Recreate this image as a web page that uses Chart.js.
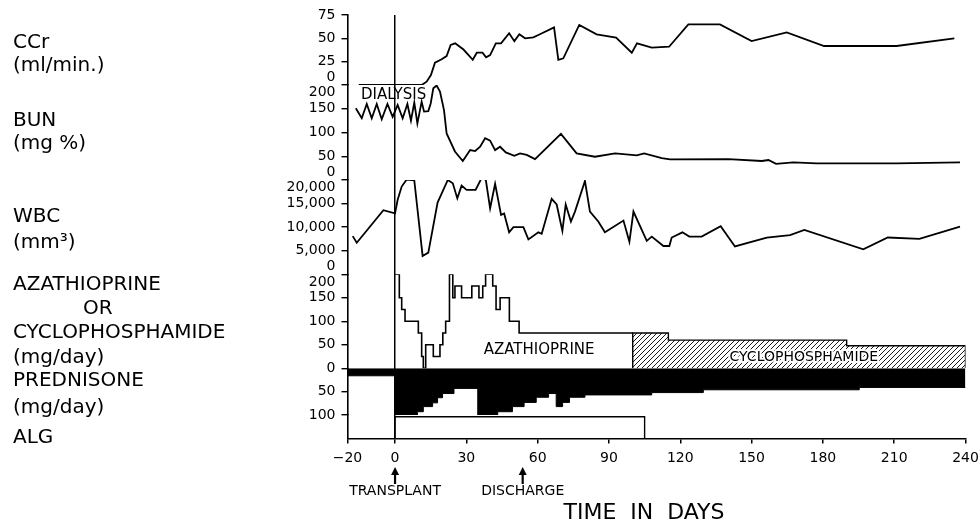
<!DOCTYPE html>
<html>
<head>
<meta charset="utf-8">
<script src="https://cdn.jsdelivr.net/npm/chart.js@4.4.1/dist/chart.umd.min.js"></script>
<style>
  html, body { margin: 0; padding: 0; background: #fff; }
  #wrap { width: 979px; height: 523px; position: relative; }
</style>
</head>
<body>
<div id="wrap"><canvas id="chart"></canvas></div>
<script>
// values, x = days after transplant
const xTicks = [-20, 0, 30, 60, 90, 120, 150, 180, 210, 240];
const ccrTicks = [25, 50, 75];
const bunTicks = [50, 100, 150, 200];
const wbcTicks = [5000, 10000, 15000, 20000];
const drugTicks = [50, 100, 150, 200];
const predTicks = [0, 50, 100];

const ccrDays = [-15.3, 11.2, 13.3, 15.1, 16.8, 19.6, 21.7, 23.4, 25.3, 28.8, 32.7, 34.4, 36.8, 38.3, 40,
  42.4, 44.6, 48, 50.2, 52.3, 54.7, 58.2, 60.3, 66.9, 68.7, 70.8, 77.5, 84.8, 93, 99.6, 101.8,
  108, 115.3, 123.4, 136.7, 150, 164.8, 180.5, 211, 235.3];
const ccrValues = [0, 0, 3.6, 10.7, 24, 27.5, 31, 43, 44.6, 38, 27, 34.6, 34.6, 29.6, 32,
  44.6, 44.6, 55.4, 47, 54.3, 50, 51, 53.6, 61.8, 27, 28.6, 64.3, 54.3, 50.7, 34.6, 44.6,
  40, 41, 65, 65, 47, 56.4, 41.8, 41.8, 50];

const bunDays = [-16.5, -14, -11.9, -9.8, -7.7, -5.6, -3.2, -1, 1.1, 3.2, 5.2, 6.7, 8.1, 9.4, 11.2,
  12.2, 14, 15, 16.1, 17.5, 18.9, 20.6, 21.7, 25.2, 28.5, 31.6, 33.7, 35.8, 37.9, 40, 42.1, 44.2,
  46.6, 50.2, 52.6, 55.4, 58.9, 69.8, 76.4, 84.1, 92.6, 101.7, 104.8, 112.2, 115.7, 140.2, 154.3,
  157.1, 160.3, 167.6, 177.4, 211, 237.7];
const bunValues = [151, 130, 160, 130, 160, 128, 160, 133, 158, 130, 160, 125, 163, 119, 165,
  144, 145, 161, 193, 199, 186, 147, 98, 60, 40, 63, 61, 70, 88, 83, 63, 70,
  58, 51, 56, 53, 44, 97, 56, 49, 56, 52, 56, 46, 43.5, 44, 40,
  42, 34, 37, 35, 35, 37];

const wbcDays = [-17.8, -16.1, -4.9, 0, 1.1, 2.8, 4.9, 8.1, 11.6, 14, 17.9, 22.2, 24.3, 26.2, 28,
  30.1, 33.9, 36.5, 38.2, 40, 42.1, 44.6, 45.9, 48, 49.8, 54, 56.1, 60.3, 61.7, 65.9, 68, 70.4,
  71.8, 74, 75.7, 79.9, 82, 85.5, 88.3, 96.1, 98.6, 100.3, 105.9, 108, 112.9, 115.4, 116.4, 120.9,
  123.8, 129, 137, 143, 156.4, 166.2, 172.2, 197, 207.3, 220.6, 237.7];
const wbcValues = [8100, 6700, 13600, 12900, 15800, 18600, 20100, 19900, 3900, 4600, 15200, 20000, 19300, 16100, 18800,
  17900, 17900, 20500, 20000, 14000, 19200, 12600, 12900, 8900, 10000, 10000, 7400, 8900, 8600, 16000, 14800, 9200,
  14800, 11200, 13300, 19800, 13300, 11200, 8900, 11400, 6900, 13300, 7100, 8000, 6000, 6000, 7800, 8900,
  8000, 8000, 10200, 5900, 7800, 8300, 9400, 5300, 7800, 7500, 10100];

// daily doses, each value holds until the next day listed
const azaDays = [0, 1.8, 2.8, 4.2, 9.8, 11.2, 11.9, 12.9, 16.1, 18.9, 20.1, 21.3, 22.9, 24.3, 25.2,
  28, 32.3, 35.3, 36.9, 38.1, 41.1, 42.5, 44.2, 48.1, 52.2, 100];
const azaDoses = [200, 150, 125, 100, 75, 25, 0, 50, 25, 50, 75, 100, 200, 150, 175,
  150, 175, 150, 175, 200, 175, 125, 150, 100, 75, 75];

const cycloDays = [100, 115, 190, 240];
const cycloDoses = [75, 60, 48, 48];

const predDays = [-20, 0, 9.4, 11.9, 15.8, 17.9, 20, 24.8, 34.8, 43.2, 49.4, 54.3, 59.4, 64.6,
  67.8, 70.5, 73.4, 79.9, 108, 129.7, 195.3, 240];
const predDoses = [16, 100, 93, 82, 74, 63, 54, 43, 100, 93, 82, 73, 62, 54,
  82, 73, 62, 57, 52, 46, 41, 41];

const algStart = 0;
const algEnd = 105;

const events = [
  { label: 'TRANSPLANT', day: 0 },
  { label: 'DISCHARGE', day: 53.7 }
];

const sideLabels = [
  ['CCr', 13, 43], ['(ml/min.)', 13, 66],
  ['BUN', 13, 121], ['(mg %)', 13, 144],
  ['WBC', 13, 217], ['(mm³)', 13, 243],
  ['AZATHIOPRINE', 13, 285], ['OR', 83, 309], ['CYCLOPHOSPHAMIDE', 13, 333], ['(mg/day)', 13, 358],
  ['PREDNISONE', 13, 381], ['(mg/day)', 13, 408],
  ['ALG', 13, 438]
];

const pts = (days, vals) => days.map((d, i) => ({ x: d, y: vals[i] }));

function makeHatch() {
  const c = document.createElement('canvas');
  c.width = 5; c.height = 5;
  const g = c.getContext('2d');
  g.fillStyle = '#fff';
  g.fillRect(0, 0, 5, 5);
  g.strokeStyle = '#000';
  g.lineWidth = 0.9;
  g.beginPath();
  g.moveTo(0, 5); g.lineTo(5, 0);
  g.moveTo(-1, 1); g.lineTo(1, -1);
  g.moveTo(4, 6); g.lineTo(6, 4);
  g.stroke();
  return g.createPattern(c, 'repeat');
}

function fmt(v) {
  return v.toLocaleString('en-US');
}

// lower panel's top tick also carries the "0" of the panel above it
function stackedLabel(top) {
  return v => (v === top ? ['0', fmt(v)] : fmt(v));
}

const FONT = "'DejaVu Sans', sans-serif";
Chart.defaults.font.family = FONT;
Chart.defaults.color = '#000';

function yAxis(weight, size, min, max, ticks, extra) {
  return Object.assign({
    type: 'linear',
    position: 'left',
    stack: 'panels',
    stackWeight: size,
    weight: weight,
    min: min,
    max: max,
    afterBuildTicks: axis => { axis.ticks = ticks.map(v => ({ value: v })); },
    afterFit: axis => { axis.width = 347.5; axis.paddingTop = 0; axis.paddingBottom = 0; },
    border: { display: true, color: '#000', width: 1.6 },
    grid: { drawOnChartArea: false, drawTicks: true, tickLength: 6, color: '#000', lineWidth: 1.4 },
    ticks: {
      autoSkip: false,
      padding: 6,
      font: { size: 14, lineHeight: 1.1 },
      color: '#000',
      callback: stackedLabel(max)
    }
  }, extra || {});
}

const lineStyle = { borderColor: '#000', borderWidth: 1.8, pointRadius: 0, fill: false, tension: 0 };

const annotate = {
  id: 'annotate',
  afterDatasetsDraw(chart) {
    const ctx = chart.ctx;
    const x = chart.scales.x;
    ctx.save();
    ctx.fillStyle = '#000';
    ctx.textBaseline = 'middle';

    ctx.font = '15px ' + FONT;
    ctx.textAlign = 'center';
    ctx.fillText('DIALYSIS', x.getPixelForValue(-0.6), chart.scales.yBUN.getPixelForValue(179));
    ctx.fillText('AZATHIOPRINE', x.getPixelForValue(60.6), chart.scales.yDrug.getPixelForValue(38));

    ctx.font = '14px ' + FONT;
    const cx = x.getPixelForValue(172);
    const cy = chart.scales.yDrug.getPixelForValue(23);
    ctx.lineJoin = 'round';
    ctx.strokeStyle = '#fff';
    ctx.lineWidth = 4;
    ctx.strokeText('CYCLOPHOSPHAMIDE', cx, cy);
    ctx.fillText('CYCLOPHOSPHAMIDE', cx, cy);
    ctx.restore();
  },
  afterDraw(chart) {
    const ctx = chart.ctx;
    const x = chart.scales.x;
    ctx.save();
    ctx.fillStyle = '#000';
    ctx.strokeStyle = '#000';
    ctx.textBaseline = 'middle';

    ctx.font = '20px ' + FONT;
    ctx.textAlign = 'left';
    sideLabels.forEach(([t, lx, ly]) => ctx.fillText(t, lx, ly));

    ctx.font = '14px ' + FONT;
    ctx.textAlign = 'center';
    events.forEach(ev => {
      const px = x.getPixelForValue(ev.day);
      ctx.lineWidth = 2.2;
      ctx.beginPath();
      ctx.moveTo(px, 474);
      ctx.lineTo(px, 484);
      ctx.stroke();
      ctx.beginPath();
      ctx.moveTo(px, 467);
      ctx.lineTo(px - 4, 475);
      ctx.lineTo(px + 4, 475);
      ctx.closePath();
      ctx.fill();
      ctx.fillText(ev.label, px, 491);
    });

    ctx.font = '22px ' + FONT;
    ctx.fillText('TIME  IN  DAYS', 644, 513);
    ctx.restore();
  }
};

new Chart(document.getElementById('chart'), {
  type: 'line',
  data: {
    datasets: [
      Object.assign({ data: pts(ccrDays, ccrValues), yAxisID: 'yCCr' }, lineStyle),
      Object.assign({ data: pts(bunDays, bunValues), yAxisID: 'yBUN' }, lineStyle),
      Object.assign({ data: pts(wbcDays, wbcValues), yAxisID: 'yWBC' }, lineStyle),
      Object.assign({}, lineStyle, { data: pts(azaDays, azaDoses), yAxisID: 'yDrug', stepped: 'before', borderWidth: 1.6 }),
      Object.assign({}, lineStyle, {
        data: [{ x: cycloDays[0], y: 0 }].concat(pts(cycloDays, cycloDoses), [{ x: cycloDays[cycloDays.length - 1], y: 0 }]),
        yAxisID: 'yDrug', stepped: 'before', fill: 'origin', backgroundColor: makeHatch(), borderWidth: 1.4
      }),
      Object.assign({}, lineStyle, {
        data: pts(predDays, predDoses), yAxisID: 'yPred', stepped: 'before',
        fill: 'origin', backgroundColor: '#000', borderWidth: 1
      }),
      Object.assign({}, lineStyle, {
        data: [{ x: algStart, y: 0 }, { x: algStart, y: 1 }, { x: algEnd, y: 1 }, { x: algEnd, y: 0 }],
        yAxisID: 'yALG', borderWidth: 1.4
      })
    ]
  },
  options: {
    responsive: true,
    maintainAspectRatio: false,
    animation: false,
    layout: { padding: { top: 15, right: 13.5, bottom: 0, left: 0 } },
    plugins: { legend: { display: false }, tooltip: { enabled: false } },
    scales: {
      x: {
        type: 'linear',
        min: -20,
        max: 240,
        afterBuildTicks: axis => { axis.ticks = xTicks.map(v => ({ value: v })); },
        afterFit: axis => { axis.height = 84.5; axis.paddingLeft = 0; axis.paddingRight = 0; },
        border: { display: true, color: '#000', width: 1.6 },
        grid: {
          drawOnChartArea: true,
          tickLength: 5,
          lineWidth: 1.5,
          color: c => (c.tick && c.tick.value === 0 ? '#000' : 'rgba(0,0,0,0)'),
          tickColor: '#000'
        },
        ticks: {
          autoSkip: false,
          maxRotation: 0,
          padding: 6,
          font: { size: 14 },
          color: '#000',
          callback: v => (v < 0 ? '\u2212' + Math.abs(v) : String(v))
        }
      },
      yCCr: yAxis(6, 70, 0, 75, ccrTicks, { ticks: { autoSkip: false, padding: 6, font: { size: 14 }, color: '#000', callback: fmt } }),
      yBUN: yAxis(5, 95, 0, 200, bunTicks),
      yWBC: yAxis(4, 94.3, 0, 20000, wbcTicks),
      yDrug: yAxis(3, 94, 0, 200, drugTicks),
      yPred: yAxis(2, 46.7, 0, 100, predTicks, {
        reverse: true,
        ticks: { autoSkip: false, padding: 6, font: { size: 14 }, color: '#000', callback: fmt }
      }),
      yALG: yAxis(1, 23.5, 0, 1.08, [])
    }
  },
  plugins: [annotate]
});
</script>
</body>
</html>
